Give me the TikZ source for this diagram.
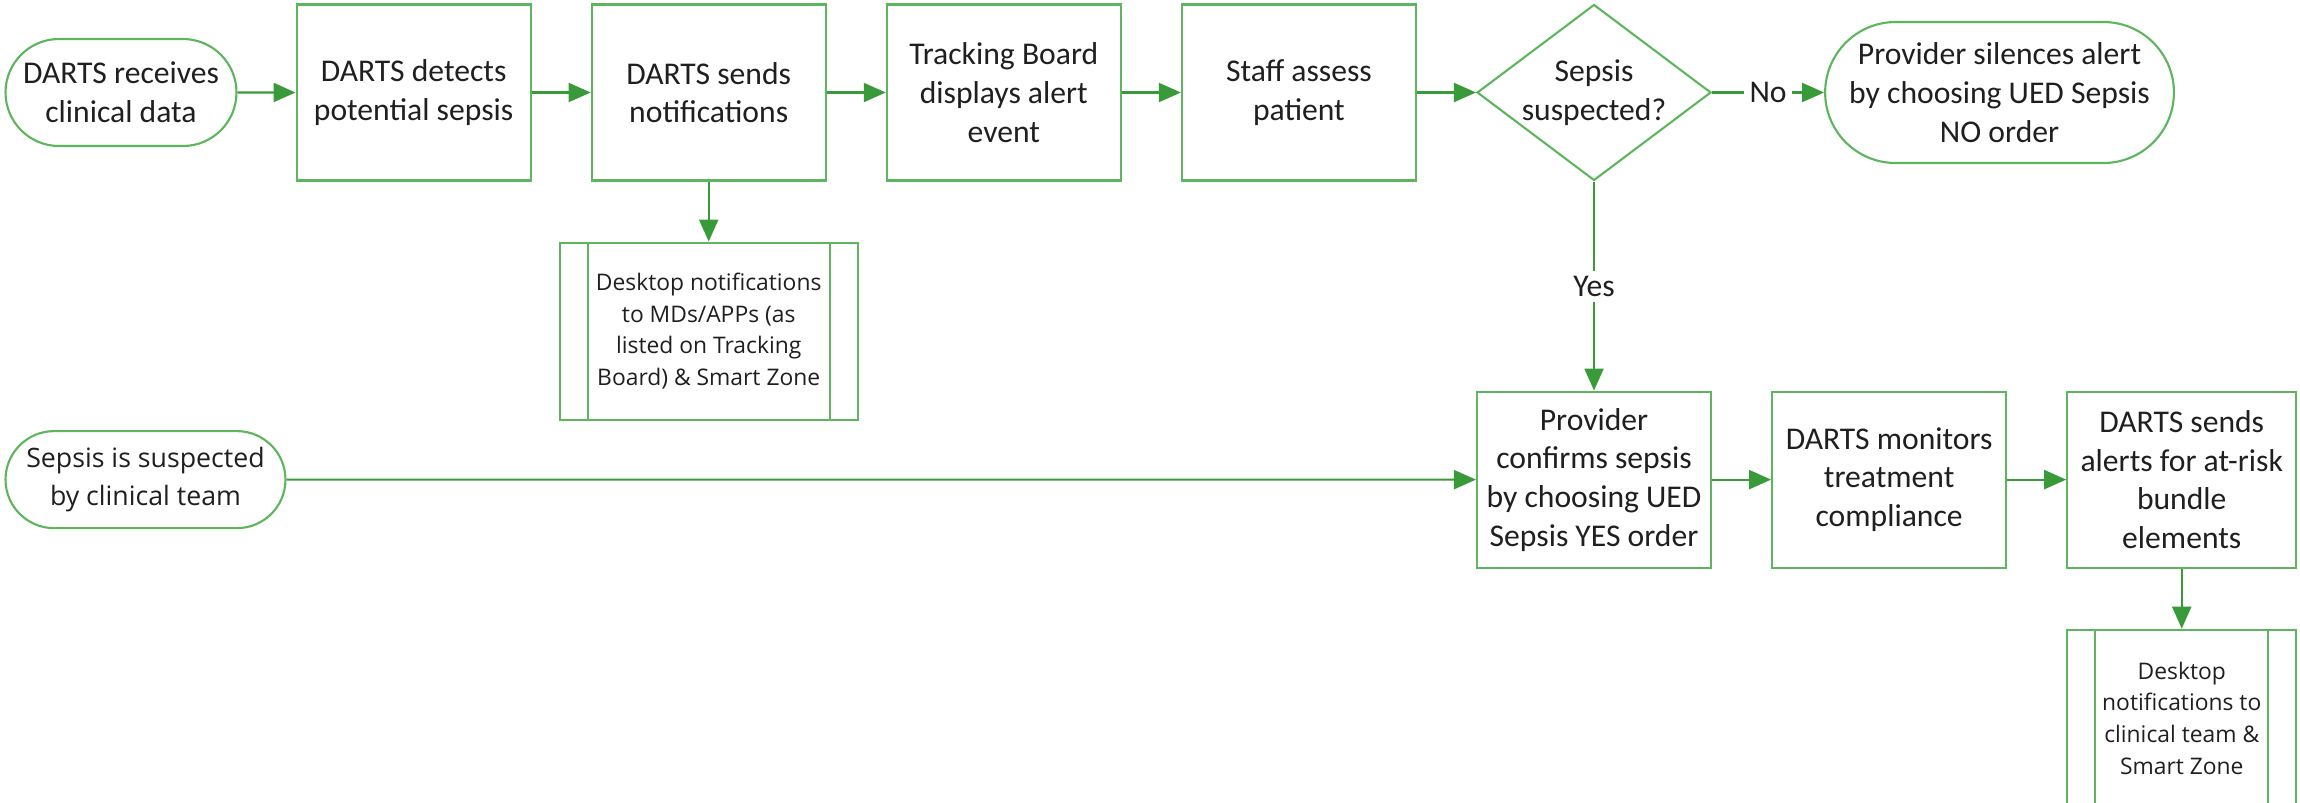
\documentclass[tikz,border=0pt]{standalone}
\usepackage{fontspec}
\setmainfont{Carlito}
\newfontfamily\notefont{Open Sans}
\usepackage{xcolor}
\definecolor{boxgreen}{HTML}{5DB55D}
\definecolor{linkgreen}{HTML}{389A38}
\usetikzlibrary{positioning, shapes.geometric, shapes.misc, arrows.meta}

\begin{document}
\begin{tikzpicture}[node distance=0.59cm,
    every node/.style={font=\fontsize{9}{11}\selectfont, align=center, text=black!88},
    stepbox/.style={draw=boxgreen, line width=0.6pt, minimum width=2.34cm, minimum height=1.76cm, inner sep=1pt},
    endbox/.style={draw=boxgreen, line width=0.6pt, rounded rectangle, inner sep=1pt},
    decision/.style={draw=boxgreen, line width=0.6pt, diamond, aspect=1.33, minimum width=2.34cm, minimum height=1.76cm, inner sep=0pt},
    subbox/.style={stepbox, minimum width=2.98cm, minimum height=1.77cm, font=\notefont\fontsize{6.5}{9}\selectfont,
      path picture={\draw[boxgreen, line width=0.6pt]
        ([xshift=0.28cm]path picture bounding box.north west) -- ([xshift=0.28cm]path picture bounding box.south west)
        ([xshift=-0.28cm]path picture bounding box.north east) -- ([xshift=-0.28cm]path picture bounding box.south east);}},
    flow/.style={draw=linkgreen, line width=0.6pt, -{Triangle[length=2.2mm, width=1.9mm]}},
    tag/.style={fill=white, inner sep=1.5pt}]
    \useasboundingbox (0,0) rectangle (23,-8.02);

    % Alert path (top row)
    \node[endbox, minimum width=2.38cm, minimum height=1.07cm] (receive) at (1.21,-0.925) {DARTS receives\\clinical data};
    \node[stepbox, right=0.58cm of receive] (detect) {DARTS detects\\potential sepsis};
    \node[stepbox, right=of detect] (notify) {DARTS sends\\notifications};
    \node[stepbox, right=of notify] (board) {Tracking Board\\displays alert\\event};
    \node[stepbox, right=of board] (assess) {Staff assess\\patient};
    \node[decision, right=of assess, label={[name=suspecttext]center:Sepsis\\suspected?}] (suspect) {};
    \node[endbox, minimum width=3.27cm, minimum height=1.41cm, right=1.12cm of suspect] (silence) {Provider silences alert\\by choosing UED Sepsis\\NO order};
    \node[subbox, below=0.6cm of notify] (desk1) {Desktop notifications\\to MDs/APPs (as\\listed on Tracking\\Board) \& Smart Zone};

    % Confirmed path (bottom row)
    \node[stepbox, below=2.09cm of suspect] (confirm) {Provider\\confirms sepsis\\by choosing UED\\Sepsis YES order};
    \node[endbox, minimum width=2.87cm, minimum height=0.97cm, font=\notefont\fontsize{7.6}{10.8}\selectfont] (clinic) at (1.455,0 |- confirm) {Sepsis is suspected\\by clinical team};
    \node[stepbox, right=of confirm] (monitor) {DARTS monitors\\treatment\\compliance};
    \node[stepbox, minimum width=2.29cm, right=of monitor] (bundle) {DARTS sends\\alerts for at-risk\\bundle\\elements};
    \node[subbox, minimum width=2.29cm, below=0.6cm of bundle] (desk2) {Desktop\\notifications to\\clinical team \&\\Smart Zone};

    % Connectors
    \draw[flow] (receive) -- (detect);
    \draw[flow] (detect) -- (notify);
    \draw[flow] (notify) -- (board);
    \draw[flow] (board) -- (assess);
    \draw[flow] (assess) -- (suspect);
    \draw[flow] (suspect) -- node[tag] (nolabel) {No} (silence);
    \draw[flow] (notify) -- (desk1);
    \draw[flow] (suspect) -- node[tag] (yeslabel) {Yes} (confirm);
    \draw[flow] (clinic) -- (confirm);
    \draw[flow] (confirm) -- (monitor);
    \draw[flow] (monitor) -- (bundle);
    \draw[flow] (bundle) -- (desk2);
\end{tikzpicture}
\end{document}
